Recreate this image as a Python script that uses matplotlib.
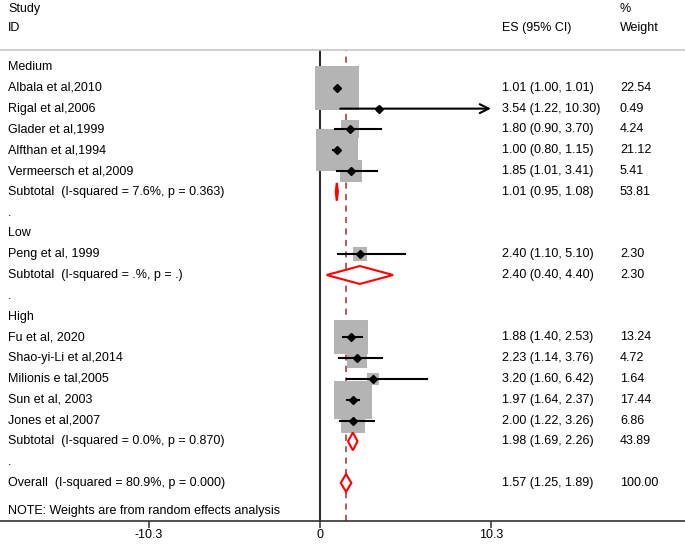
import matplotlib.pyplot as plt
import numpy as np
from matplotlib.patches import Polygon
from matplotlib.transforms import blended_transform_factory

plt.rcParams["font.family"] = ["Liberation Sans", "DejaVu Sans"]
plt.rcParams["font.size"] = 9

# data
groups = ["Medium", "Low", "High"]
studies = [
    ["Albala et al,2010", "Rigal et al,2006", "Glader et al,1999",
     "Alfthan et al,1994", "Vermeersch et al,2009"],
    ["Peng et al, 1999"],
    ["Fu et al, 2020", "Shao-yi-Li et al,2014", "Milionis e tal,2005",
     "Sun et al, 2003", "Jones et al,2007"],
]
es = [[1.01, 3.54, 1.80, 1.00, 1.85], [2.40], [1.88, 2.23, 3.20, 1.97, 2.00]]
lo = [[1.00, 1.22, 0.90, 0.80, 1.01], [1.10], [1.40, 1.14, 1.60, 1.64, 1.22]]
hi = [[1.01, 10.30, 3.70, 1.15, 3.41], [5.10], [2.53, 3.76, 6.42, 2.37, 3.26]]
weights = [[22.54, 0.49, 4.24, 21.12, 5.41], [2.30], [13.24, 4.72, 1.64, 17.44, 6.86]]

sub_labels = ["Subtotal  (I-squared = 7.6%, p = 0.363)",
              "Subtotal  (I-squared = .%, p = .)",
              "Subtotal  (I-squared = 0.0%, p = 0.870)"]
sub_es = [1.01, 2.40, 1.98]
sub_lo = [0.95, 0.40, 1.69]
sub_hi = [1.08, 4.40, 2.26]
sub_w = [53.81, 2.30, 43.89]

overall_label = "Overall  (I-squared = 80.9%, p = 0.000)"
overall = (1.57, 1.25, 1.89, 100.00)

xticks = [-10.3, 0, 10.3]
xmax = 10.3

fig = plt.figure(figsize=(6.85, 5.44), dpi=100)
ax = fig.add_axes([0, 23 / 544, 1, 471 / 544])
ax.set_xlim(-19.28, 21.99)
ax.set_ylim(21.83, -0.82)
tr = blended_transform_factory(ax.transAxes, ax.transData)

x_id, x_es, x_w = 8 / 685, 502 / 685, 620 / 685


def row_text(y, label, e=None, l=None, h=None, w=None):
    ax.text(x_id, y, label, transform=tr, va="center", ha="left")
    if e is not None:
        ax.text(x_es, y, f"{e:.2f} ({l:.2f}, {h:.2f})", transform=tr,
                va="center", ha="left")
        ax.text(x_w, y, f"{w:.2f}", transform=tr, va="center", ha="left")


def diamond(y, e, l, h):
    pts = [(l, y), (e, y - 0.43), (h, y), (e, y + 0.43)]
    ax.add_patch(Polygon(pts, closed=True, facecolor="white",
                         edgecolor="#ff0000", lw=1.5, zorder=4))


row = 0
for g, name in enumerate(groups):
    row_text(row, name)
    row += 1
    for i, s in enumerate(studies[g]):
        e, l, h, w = es[g][i], lo[g][i], hi[g][i], weights[g][i]
        side_pt = 9.1 * np.sqrt(w) * 0.72
        ax.scatter([e], [row], s=side_pt ** 2, marker="s", color="#b4b4b4",
                   linewidths=0, zorder=2)
        if h > xmax - 0.01:
            # CI runs past the axis: draw an open arrow
            ax.annotate("", xy=(xmax, row), xytext=(l, row),
                        arrowprops=dict(arrowstyle="->", lw=1.5, color="black",
                                        mutation_scale=16, shrinkA=0, shrinkB=0),
                        zorder=3)
        else:
            ax.plot([l, h], [row, row], color="black", lw=1.5, zorder=3)
        ax.plot([e], [row], marker="D", color="black", ms=3.8, zorder=4)
        row_text(row, s, e, l, h, w)
        row += 1
    diamond(row, sub_es[g], sub_lo[g], sub_hi[g])
    row_text(row, sub_labels[g], sub_es[g], sub_lo[g], sub_hi[g], sub_w[g])
    row += 1
    row_text(row, ".")
    row += 1

diamond(row, overall[0], overall[1], overall[2])
row_text(row, overall_label, *overall)
row += 1
ax.text(x_id, row + 0.35, "NOTE: Weights are from random effects analysis",
        transform=tr, va="center", ha="left")

ax.axvline(0, color="black", lw=1.2, zorder=1)
ax.axvline(overall[0], color="#a02c2c", lw=1.1, ls=(0, (4, 3.5)), zorder=1)

# header
ax.text(x_id, -2.8, "Study", transform=tr, va="center", ha="left", clip_on=False)
ax.text(x_id, -1.9, "ID", transform=tr, va="center", ha="left", clip_on=False)
ax.text(x_es, -1.9, "ES (95% CI)", transform=tr, va="center", ha="left", clip_on=False)
ax.text(x_w, -2.8, "%", transform=tr, va="center", ha="left", clip_on=False)
ax.text(x_w, -1.9, "Weight", transform=tr, va="center", ha="left", clip_on=False)

for sp in ["left", "right"]:
    ax.spines[sp].set_visible(False)
ax.spines["bottom"].set_color("#333333")
ax.spines["bottom"].set_linewidth(1.2)
ax.spines["top"].set_color("#c8c8c8")
ax.spines["top"].set_linewidth(1.2)
ax.set_yticks([])
ax.set_xticks(xticks)
ax.set_xticklabels(["-10.3", "0", "10.3"])
ax.tick_params(axis="x", length=5, width=1.1, color="#333333", pad=1)

fig.savefig("out.png", dpi=100)
